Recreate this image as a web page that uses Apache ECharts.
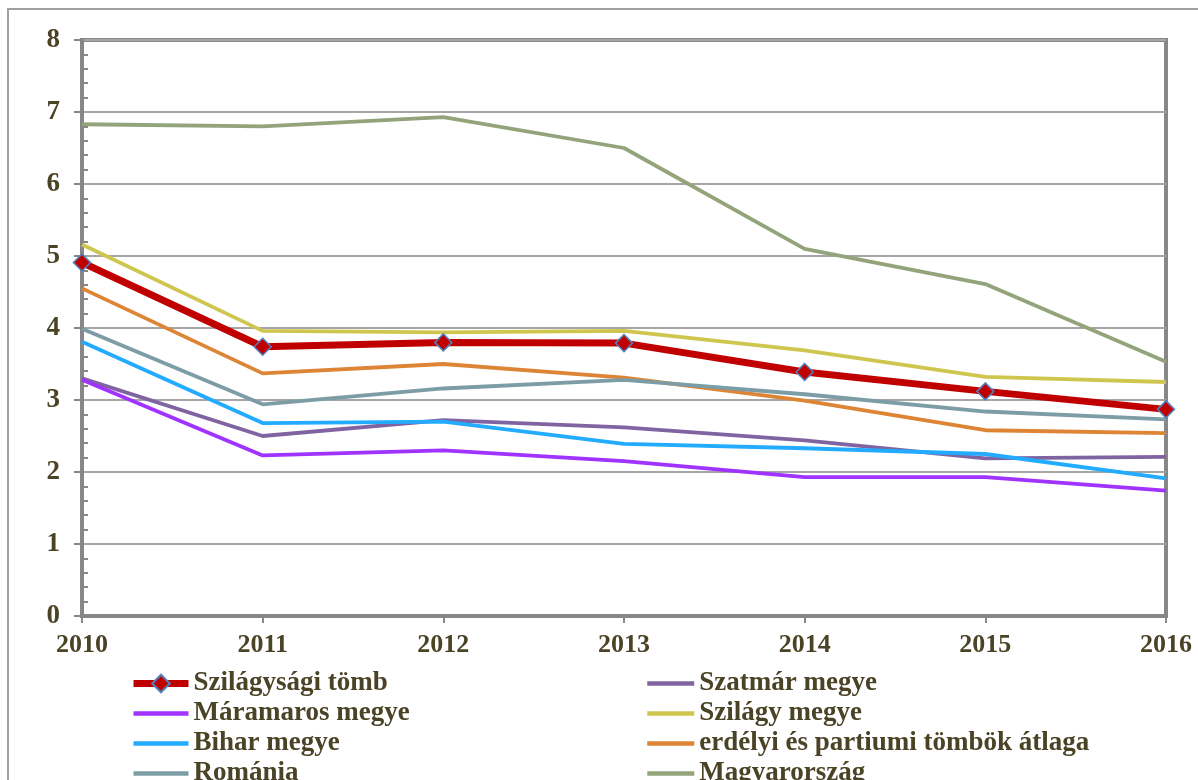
<!DOCTYPE html>
<html>
<head>
<meta charset="utf-8">
<script src="https://cdn.jsdelivr.net/npm/echarts@6/dist/echarts.min.js"></script>
<style>
  html, body { margin: 0; padding: 0; background: #fff; }
  #chart { width: 1198px; height: 780px; }
</style>
</head>
<body>
<div id="chart"></div>
<script>
// evek
var years = ['2010', '2011', '2012', '2013', '2014', '2015', '2016'];

// sorozatok
var szilagysagiTomb = [4.91, 3.74, 3.80, 3.79, 3.39, 3.12, 2.87];
var szatmarMegye = [3.30, 2.50, 2.72, 2.62, 2.44, 2.19, 2.21];
var maramarosMegye = [3.28, 2.23, 2.30, 2.15, 1.93, 1.93, 1.74];
var szilagyMegye = [5.16, 3.96, 3.94, 3.96, 3.69, 3.32, 3.25];
var biharMegye = [3.81, 2.68, 2.70, 2.39, 2.33, 2.25, 1.91];
var erdelyiAtlag = [4.55, 3.37, 3.50, 3.31, 2.99, 2.58, 2.54];
var romania = [3.99, 2.94, 3.16, 3.28, 3.08, 2.84, 2.73];
var magyarorszag = [6.83, 6.80, 6.93, 6.50, 5.10, 4.61, 3.53];

var fontFam = "'Liberation Serif', 'Times New Roman', serif";
var txtColor = '#4B4326';
var axisGray = '#878787';

function lineSeries(name, data, color, width) {
  return {
    name: name,
    type: 'line',
    data: data,
    symbol: 'none',
    lineStyle: { color: color, width: width || 3.8 },
    itemStyle: { color: color }
  };
}

// legendben ne legyen pont a vonalon
function plain(name) {
  return { name: name, itemStyle: { opacity: 0 }, lineStyle: { width: 4.5 } };
}

var legendText = { fontFamily: fontFam, fontWeight: 'bold', fontSize: 27, color: txtColor, lineHeight: 26 };

var myChart = echarts.init(document.getElementById('chart'));
myChart.setOption({
  animation: false,
  backgroundColor: '#fff',
  graphic: [{
    type: 'rect',
    shape: { x: 8, y: 9, width: 1220, height: 820 },
    style: { fill: 'none', stroke: '#A0A0A0', lineWidth: 2 },
    silent: true
  }],
  grid: {
    left: 82, right: 32, top: 40, bottom: 164,
    show: true, borderWidth: 4, borderColor: axisGray
  },
  legend: [{
    orient: 'vertical',
    left: 130, top: 670, height: 140, padding: 0,
    itemWidth: 55, itemHeight: 22, itemGap: 3,
    textStyle: legendText,
    data: [{ name: 'Szilágysági tömb', lineStyle: { width: 7 } },
      plain('Máramaros megye'), plain('Bihar megye'), plain('Románia')]
  }, {
    orient: 'vertical',
    left: 645, top: 670, height: 140, padding: 0,
    itemWidth: 47, itemHeight: 16, itemGap: 3,
    textStyle: legendText,
    data: [plain('Szatmár megye'), plain('Szilágy megye'), plain('erdélyi és partiumi tömbök átlaga'), plain('Magyarország')]
  }],
  xAxis: {
    type: 'category',
    data: years,
    boundaryGap: false,
    axisLine: { lineStyle: { color: axisGray, width: 4 } },
    axisTick: { show: true, length: 7, lineStyle: { color: axisGray, width: 2 } },
    axisLabel: { margin: 16, fontFamily: fontFam, fontWeight: 'bold', fontSize: 26, color: txtColor },
    splitLine: { show: false }
  },
  yAxis: [{
    type: 'value',
    min: 0, max: 8, interval: 1,
    axisLine: { show: true, lineStyle: { color: axisGray, width: 4 } },
    axisTick: { show: true, length: 8, lineStyle: { color: axisGray, width: 2 } },
    axisLabel: { margin: 22, fontFamily: fontFam, fontWeight: 'bold', fontSize: 27, color: txtColor },
    splitLine: { show: true, lineStyle: { color: '#A6A6A6', width: 2 } }
  }, {
    // csak a belso apro osztasokhoz
    type: 'value',
    position: 'left',
    min: 0, max: 8, interval: 1,
    axisLine: { show: false },
    axisTick: { show: false, inside: true },
    minorTick: { show: true, splitNumber: 5, length: 6, lineStyle: { color: axisGray, width: 2 } },
    axisLabel: { show: false },
    splitLine: { show: false }
  }],
  series: [
    {
      name: 'Szilágysági tömb',
      type: 'line',
      data: szilagysagiTomb,
      z: 10,
      symbol: 'diamond',
      symbolSize: 17,
      lineStyle: { color: '#C00000', width: 7 },
      itemStyle: { color: '#C00000', borderColor: '#4F81BD', borderWidth: 1.5 }
    },
    lineSeries('Szatmár megye', szatmarMegye, '#8064A2'),
    lineSeries('Máramaros megye', maramarosMegye, '#A033FF'),
    lineSeries('Szilágy megye', szilagyMegye, '#CFC650'),
    lineSeries('Bihar megye', biharMegye, '#22ABFF'),
    lineSeries('erdélyi és partiumi tömbök átlaga', erdelyiAtlag, '#DD8435'),
    lineSeries('Románia', romania, '#7C9DA5'),
    lineSeries('Magyarország', magyarorszag, '#93A47B')
  ]
});
</script>
</body>
</html>
